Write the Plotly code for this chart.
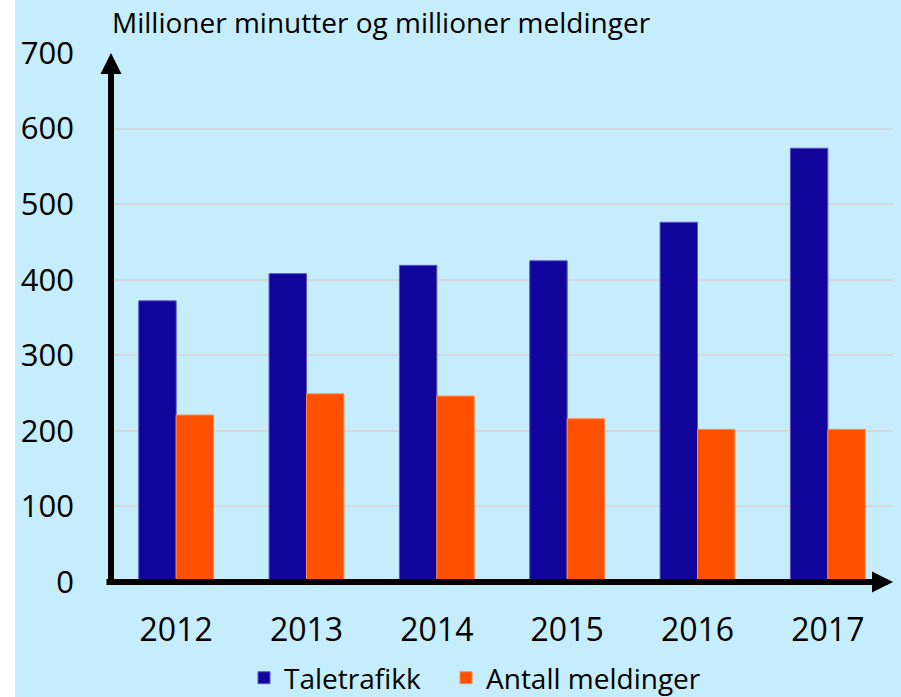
import plotly.graph_objects as go

years = ["2012", "2013", "2014", "2015", "2016", "2017"]
taletrafikk = [372, 408, 419, 425, 476, 574]
meldinger = [221, 249, 246, 216, 202, 202]
y_ticks = [0, 100, 200, 300, 400, 500, 600, 700]

W, H = 901, 697
L, R, T, B = 111, 8, 53, 115
PW = W - L - R
PH = H - T - B


def px_x(p):
    return (p - L) / PW


def px_y(p):
    return (H - B - p) / PH


BG = "#c5edfc"
FONT = "Open Sans, Arial, sans-serif"

fig = go.Figure()
fig.add_trace(go.Bar(x=years, y=taletrafikk, name="Taletrafikk", legend="legend",
                     marker=dict(color="#10049a", line=dict(color="#5a55c0", width=1))))
fig.add_trace(go.Bar(x=years, y=meldinger, name="Antall meldinger", legend="legend2",
                     marker=dict(color="#ff5000", line=dict(color="#ff8a50", width=1))))

leg_common = dict(orientation="h", xanchor="left", yanchor="middle",
                  font=dict(size=28, family=FONT), bgcolor="rgba(0,0,0,0)")

fig.update_layout(
    width=W, height=H,
    margin=dict(l=L, r=R, t=T, b=B, pad=0, autoexpand=False),
    paper_bgcolor="white",
    plot_bgcolor=BG,
    barmode="group",
    bargap=0.426,
    bargroupgap=0,
    font=dict(family=FONT, color="black"),
    showlegend=True,
    legend=dict(x=px_x(244), y=px_y(678), **leg_common),
    legend2=dict(x=px_x(446), y=px_y(678), **leg_common),
    xaxis=dict(showline=False, showgrid=False, zeroline=False, ticks="",
               tickfont=dict(size=32), ticklabelstandoff=26),
    yaxis=dict(range=[0, 700], tickvals=y_ticks, showline=False, zeroline=False,
               showgrid=True, gridcolor="#d3d9dc", gridwidth=2, ticks="",
               tickfont=dict(size=31), ticklabelstandoff=36),
    shapes=[
        dict(type="rect", xref="paper", yref="paper", x0=px_x(15), x1=px_x(W + 5),
             y0=px_y(H + 5), y1=px_y(-5), fillcolor=BG, line=dict(width=0), layer="below"),
    ],
    annotations=[
        dict(text="Millioner minutter og millioner meldinger", xref="paper", yref="paper",
             x=px_x(110), y=px_y(1), xanchor="left", yanchor="top", showarrow=False,
             font=dict(size=28, family=FONT)),
        # y axis with arrow
        dict(xref="paper", yref="paper", x=0, y=1, ax=0, ay=532, axref="pixel", ayref="pixel",
             text="", showarrow=True, arrowhead=2, arrowwidth=6, arrowsize=0.7,
             arrowcolor="black", standoff=0),
        # x axis with arrow
        dict(xref="paper", yref="paper", x=1, y=0, ax=-788, ay=0, axref="pixel", ayref="pixel",
             text="", showarrow=True, arrowhead=2, arrowwidth=6, arrowsize=0.7,
             arrowcolor="black", standoff=0),
    ],
)

fig.write_html("out.html", config={"displayModeBar": False},
               post_script="document.body.style.margin='0';document.body.style.padding='0';")
